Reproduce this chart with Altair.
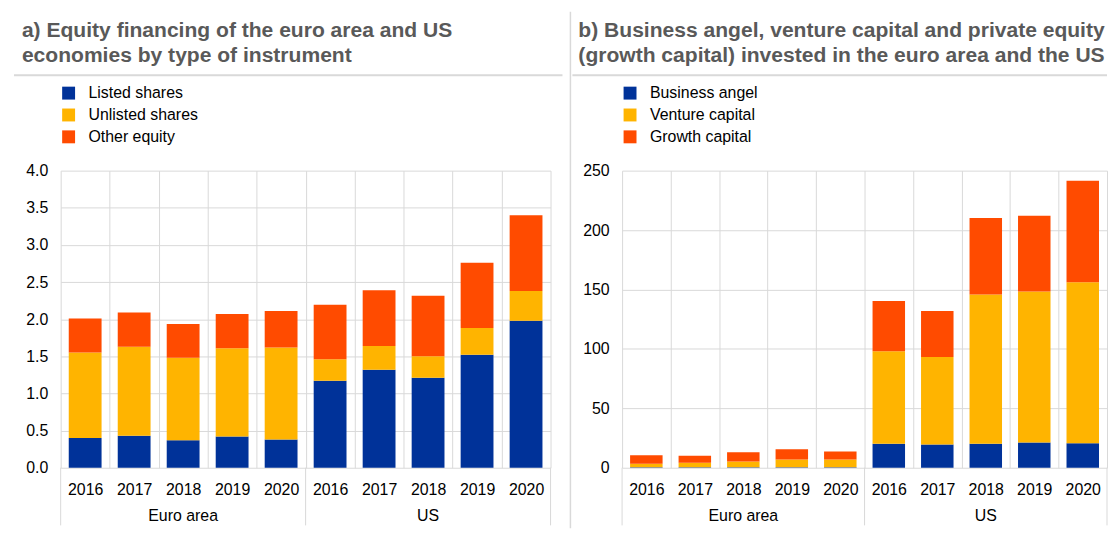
import altair as alt
import pandas as pd

FONT = "Liberation Sans"
years = ["2016", "2017", "2018", "2019", "2020"]
groups = ["Euro area", "US"]
colors = ["#003299", "#ffb400", "#ff4b00"]

# Panel a: equity financing
a_series = ["Listed shares", "Unlisted shares", "Other equity"]
a_listed = [0.40, 0.43, 0.37, 0.42, 0.38, 1.17, 1.32, 1.21, 1.52, 1.98]
a_unlisted = [1.15, 1.20, 1.11, 1.19, 1.24, 0.29, 0.32, 0.29, 0.36, 0.40]
a_other = [0.46, 0.46, 0.455, 0.46, 0.49, 0.735, 0.75, 0.815, 0.88, 1.02]
a_title = ["a) Equity financing of the euro area and US",
           "economies by type of instrument"]
a_ticks = [0, 0.5, 1.0, 1.5, 2.0, 2.5, 3.0, 3.5, 4.0]

# Panel b: business angel, venture capital, growth capital
b_series = ["Business angel", "Venture capital", "Growth capital"]
b_angel = [0.5, 0.5, 0.5, 0.5, 0.5, 20.1, 19.5, 20.1, 21.2, 20.6]
b_venture = [2.9, 3.7, 4.8, 6.4, 6.4, 78.0, 73.6, 125.7, 127.1, 135.5]
b_growth = [7.2, 5.8, 7.8, 8.7, 6.7, 42.1, 38.7, 64.3, 63.8, 85.3]
b_title = ["b) Business angel, venture capital and private equity",
           "(growth capital) invested in the euro area and the US"]
b_ticks = [0, 50, 100, 150, 200, 250]

keys = [f"{g}|{y}" for g in groups for y in years]
H = 299


def long_df(names, vals_list):
    rows = []
    for si, (name, vals) in enumerate(zip(names, vals_list)):
        for i, v in enumerate(vals):
            g = groups[i // 5]
            yr = years[i % 5]
            rows.append(dict(key=f"{g}|{yr}", group=g, year=yr, series=name, order=si, value=v))
    return pd.DataFrame(rows)


def panel(df, names, title_lines, W, ticks, fmt, title_dx, rule_x1, rule_x2, divider=False):
    xscale = alt.Scale(domain=keys, paddingInner=0, paddingOuter=0)
    xaxis = alt.Axis(labelExpr="split(datum.value, '|')[1]", tickBand="extent", grid=True,
                     gridColor="#d9d9d9", gridWidth=1, domain=False, ticks=False,
                     labelPadding=14, labelFont=FONT, labelFontSize=16, labelColor="#000000",
                     labelAngle=0, title=None)
    bars = alt.Chart(df).mark_bar(width=alt.RelativeBandSize(0.67)).encode(
        x=alt.X("key:N", scale=xscale, axis=xaxis),
        y=alt.Y("value:Q", stack="zero",
                scale=alt.Scale(domain=[ticks[0], ticks[-1]], nice=False, zero=True),
                axis=alt.Axis(values=ticks, format=fmt, grid=True, gridColor="#d9d9d9",
                              domain=False, ticks=False, labelPadding=13, labelFont=FONT,
                              labelFontSize=16, labelColor="#000000", title=None)),
        color=alt.Color("series:N", scale=alt.Scale(domain=names, range=colors),
                        legend=alt.Legend(orient="none", legendX=0, legendY=-86, title=None,
                                          symbolType="square", symbolSize=169,
                                          symbolStrokeWidth=0, labelFont=FONT,
                                          labelFontSize=16, labelColor="#000000",
                                          labelOffset=12, rowPadding=6, padding=0,
                                          direction="vertical")),
        order=alt.Order("order:Q"),
    )
    glab = pd.DataFrame({"key": [f"{g}|2018" for g in groups], "group": groups})
    gtext = alt.Chart(glab).mark_text(font=FONT, fontSize=16, color="#000000",
                                      baseline="middle").encode(
        x=alt.X("key:N", scale=xscale),
        y=alt.value(H + 49),
        text="group:N",
    )
    sep_start = pd.DataFrame({"key": [keys[0], keys[5]]})
    sep_end = pd.DataFrame({"key": [keys[9]]})
    rule_s = alt.Chart(sep_start).mark_rule(color="#d9d9d9", strokeWidth=1).encode(
        x=alt.X("key:N", scale=xscale, bandPosition=0),
        y=alt.value(H), y2=alt.value(H + 58))
    rule_e = alt.Chart(sep_end).mark_rule(color="#d9d9d9", strokeWidth=1).encode(
        x=alt.X("key:N", scale=xscale, bandPosition=1),
        y=alt.value(H), y2=alt.value(H + 58))
    one = pd.DataFrame({"d": [0]})
    title = alt.Chart(one).mark_text(font=FONT, fontSize=21.2, fontWeight="bold",
                                     color="#595959", align="left", baseline="alphabetic",
                                     lineHeight=25).encode(
        x=alt.value(title_dx), y=alt.value(-134), text=alt.value(title_lines))
    hline = alt.Chart(one).mark_rule(color="#d9d9d9", strokeWidth=2).encode(
        x=alt.value(rule_x1), x2=alt.value(rule_x2), y=alt.value(-96))
    layers = [bars, gtext, rule_s, rule_e, title, hline]
    if divider:
        vline = alt.Chart(one).mark_rule(color="#d9d9d9", strokeWidth=1.5).encode(
            x=alt.value(W + 20), y=alt.value(-160), y2=alt.value(360))
        layers.append(vline)
    return alt.layer(*layers).properties(width=W, height=H)


WA, WB = 493, 488
pa = panel(long_df(a_series, [a_listed, a_unlisted, a_other]), a_series, a_title, WA,
           a_ticks, ".1f", -39, -47, WA + 12, divider=True)
pb = panel(long_df(b_series, [b_angel, b_venture, b_growth]), b_series, b_title, WB,
           b_ticks, "d", -44, -50, WB)

chart = alt.hconcat(pa, pb, spacing=72, bounds="flush").resolve_scale(
    color="independent", x="independent", y="independent"
).resolve_legend(color="independent").properties(
    padding={"left": 5, "top": 1, "right": 0, "bottom": 0}
).configure_view(stroke=None)

chart.save("out.html", embed_options={"renderer": "svg", "actions": False})
